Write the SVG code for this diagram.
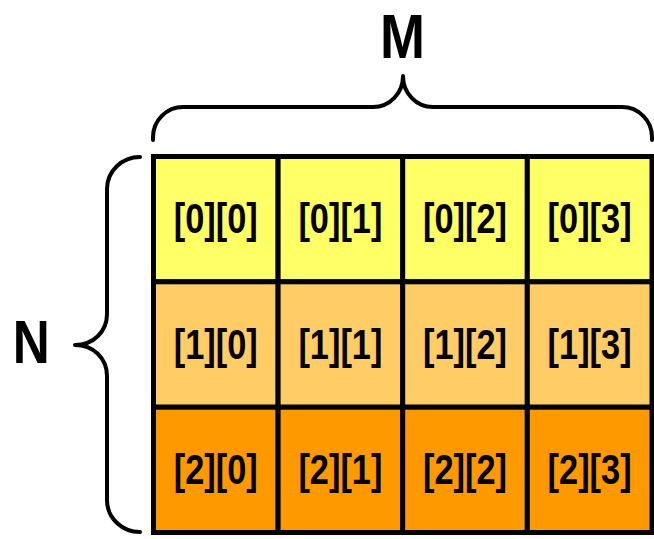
<svg xmlns="http://www.w3.org/2000/svg" width="654" height="539" viewBox="0 0 654 539">
<style>
.c{stroke:#000;stroke-width:5}
.r0{fill:#FFFF66}
.r1{fill:#FFCC66}
.r2{fill:#FF9900}
.t{font-family:"Liberation Sans",Arial,sans-serif;font-weight:bold;font-size:43px;text-anchor:middle;fill:#000}
.lbl{font-family:"Liberation Sans",Arial,sans-serif;font-weight:bold;text-anchor:middle;fill:#000}
.br{fill:none;stroke:#000;stroke-width:4;stroke-linecap:round;stroke-linejoin:round}
</style>
<rect width="654" height="539" fill="#fff"/>
<g id="cell-0-0"><rect class="c r0" x="153.5" y="156.5" width="124.6" height="125.3"/><text class="t" x="215.8" y="233" textLength="84" lengthAdjust="spacingAndGlyphs">[0][0]</text></g>
<g id="cell-0-1"><rect class="c r0" x="278.1" y="156.5" width="124.6" height="125.3"/><text class="t" x="340.4" y="233" textLength="84" lengthAdjust="spacingAndGlyphs">[0][1]</text></g>
<g id="cell-0-2"><rect class="c r0" x="402.7" y="156.5" width="124.6" height="125.3"/><text class="t" x="465" y="233" textLength="84" lengthAdjust="spacingAndGlyphs">[0][2]</text></g>
<g id="cell-0-3"><rect class="c r0" x="527.3" y="156.5" width="124.7" height="125.3"/><text class="t" x="589.6" y="233" textLength="84" lengthAdjust="spacingAndGlyphs">[0][3]</text></g>
<g id="cell-1-0"><rect class="c r1" x="153.5" y="281.8" width="124.6" height="125.4"/><text class="t" x="215.8" y="358.5" textLength="84" lengthAdjust="spacingAndGlyphs">[1][0]</text></g>
<g id="cell-1-1"><rect class="c r1" x="278.1" y="281.8" width="124.6" height="125.4"/><text class="t" x="340.4" y="358.5" textLength="84" lengthAdjust="spacingAndGlyphs">[1][1]</text></g>
<g id="cell-1-2"><rect class="c r1" x="402.7" y="281.8" width="124.6" height="125.4"/><text class="t" x="465" y="358.5" textLength="84" lengthAdjust="spacingAndGlyphs">[1][2]</text></g>
<g id="cell-1-3"><rect class="c r1" x="527.3" y="281.8" width="124.7" height="125.4"/><text class="t" x="589.6" y="358.5" textLength="84" lengthAdjust="spacingAndGlyphs">[1][3]</text></g>
<g id="cell-2-0"><rect class="c r2" x="153.5" y="407.2" width="124.6" height="125.3"/><text class="t" x="215.8" y="484" textLength="84" lengthAdjust="spacingAndGlyphs">[2][0]</text></g>
<g id="cell-2-1"><rect class="c r2" x="278.1" y="407.2" width="124.6" height="125.3"/><text class="t" x="340.4" y="484" textLength="84" lengthAdjust="spacingAndGlyphs">[2][1]</text></g>
<g id="cell-2-2"><rect class="c r2" x="402.7" y="407.2" width="124.6" height="125.3"/><text class="t" x="465" y="484" textLength="84" lengthAdjust="spacingAndGlyphs">[2][2]</text></g>
<g id="cell-2-3"><rect class="c r2" x="527.3" y="407.2" width="124.7" height="125.3"/><text class="t" x="589.6" y="484" textLength="84" lengthAdjust="spacingAndGlyphs">[2][3]</text></g>
<g id="brace-M">
<path class="br" d="M153,140 L153,137 C153,120.5 166.5,107 183,107 L373,107 C390,107 403,93 403,76 C403,93 416,107 433,107 L622,107 C638.5,107 652,120.5 652,137 L652,140"/>
<text class="lbl" x="402.5" y="58" font-size="63" textLength="45" lengthAdjust="spacingAndGlyphs">M</text>
</g>
<g id="brace-N">
<path class="br" d="M140,157 C122,157 107,171 107,189 L107,314 C107,332 93,345 75,345 C93,345 107,358 107,376 L107,500 C107,518 122,532 140,532"/>
<text class="lbl" x="31.3" y="363.3" font-size="62" textLength="37" lengthAdjust="spacingAndGlyphs">N</text>
</g>
</svg>
